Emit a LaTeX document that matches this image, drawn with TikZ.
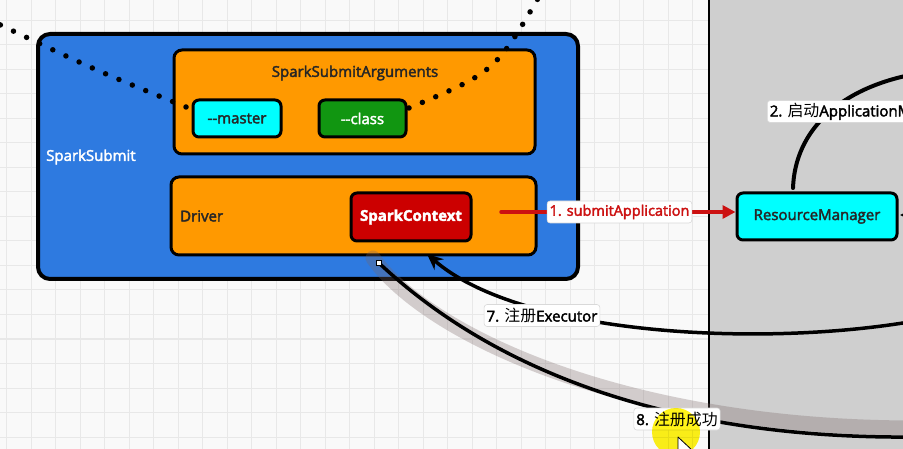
\documentclass[tikz,border=0pt]{standalone}
\usepackage{fontspec}
\setmainfont{Open Sans}[FakeBold=2.5]
\newfontfamily\cjk{Noto Sans CJK SC}[Scale=1.06]
\usetikzlibrary{arrows.meta}
\definecolor{ssblue}{RGB}{46,122,224}
\definecolor{orng}{RGB}{255,153,0}
\definecolor{cyn}{RGB}{0,255,255}
\definecolor{grn}{RGB}{17,150,17}
\definecolor{rd}{RGB}{204,0,0}
\definecolor{arrred}{RGB}{204,17,17}
\definecolor{bgc}{RGB}{249,249,249}
\definecolor{gridc}{RGB}{232,232,232}
\definecolor{yarn}{RGB}{207,207,207}
\definecolor{bandc}{RGB}{120,100,100}
\begin{document}
\begin{tikzpicture}[x=1pt,y=-1pt,
 box/.style={draw=black, line width=3pt, rounded corners=8pt, inner sep=0pt},
 txt/.style={font=\fontsize{15}{18}\selectfont, inner sep=0pt},
 lbl/.style={fill=white, draw=black!15, line width=0.6pt, rounded corners=3pt, inner sep=2.5pt, minimum height=22pt, font=\fontsize{15}{18}\selectfont},
 conn/.style={line width=3.5pt, line cap=round},
 dots/.style={line width=5.5pt, line cap=round, dash pattern=on 0pt off 14.5pt},
 gridl/.style={draw=gridc, line width=1pt},
]
\useasboundingbox (0,0) rectangle (903,449);
\clip (0,0) rectangle (903,449);
% background and grid
\fill[bgc] (0,0) rectangle (903,449);
\foreach \i in {0,...,28} {\draw[gridl] (6.7+24.5*\i,0) -- (6.7+24.5*\i,449);}
\foreach \j in {-1,...,17} {\draw[gridl] (0,20.5+24.5*\j) -- (709,20.5+24.5*\j);}
% cluster region
\fill[yarn] (709,-5) rectangle (910,455);
\draw[line width=2.5pt] (709,-5) -- (709,455);

% SparkSubmit
\node[box, line width=4pt, rounded corners=12pt, fill=ssblue, minimum width=540pt, minimum height=245pt] (ss) at (308,156.5) {};
\node[txt, text=white, anchor=west] (sslbl) at (46,157) {SparkSubmit};
\node[box, fill=orng, minimum width=361pt, minimum height=104pt] (ssa) at (354.5,102) {};
\node[txt, text=black!85] (ssalbl) at (355,73) {SparkSubmitArguments};
\node[box, rounded corners=6pt, fill=cyn, minimum width=88pt, minimum height=37pt, txt, text=black!85] (master) at (237,118.5) {-{}-master};
\node[box, rounded corners=6pt, fill=grn, minimum width=87pt, minimum height=37pt, txt, text=white] (cls) at (362.5,118.5) {-{}-class};
\node[box, fill=orng, minimum width=365pt, minimum height=78pt] (drv) at (353.5,216) {};
\node[txt, text=black!85, anchor=west] (drvlbl) at (180,216) {Driver};
\node[box, rounded corners=6pt, fill=rd, minimum width=120pt, minimum height=48pt, txt, text=white, font=\fontsize{15}{18}\selectfont\bfseries] (sc) at (411,217) {SparkContext};
\node[box, rounded corners=6pt, fill=cyn, minimum width=160pt, minimum height=47pt, txt, text=black!85] (rm) at (817,216.5) {ResourceManager};

% dotted lines
\coordinate (d1) at (186,107);
\coordinate (d1e) at (-10,20);
\coordinate (d2) at (409,108);
\coordinate (d2e) at (540,-5);
\draw[dots] (d1) .. controls (95,70) .. (d1e);
\draw[dots] (d2) .. controls (495,72) .. (d2e);

% 1. submitApplication
\coordinate (a1s) at (501,212);
\draw[conn, arrred, -{Triangle[length=13pt,width=13pt]}] (a1s) -- (a1s -| rm.west);
\node[lbl, text=arrred, font=\fontsize{14.5}{17}\selectfont] (l1) at (619.5,212) {1. submitApplication};

% 2. start ApplicationMaster
\coordinate (a2s) at (793,188);
\coordinate (a2e) at (915,74);
\draw[conn, line width=4pt] (a2s) .. controls (795,130) and (840,88) .. (a2e);
\node[lbl, anchor=west] (l2) at (767,111.5) {2. {\cjk 启动}ApplicationMaster};

% arrow into RM from the right
\coordinate (a3s) at (925,215);
\coordinate (a3e) at (900,215);
\draw[conn, -{Stealth[length=12pt,width=11pt]}] (a3s) -- (a3e);

% band (selection shadow) of connector 8
\draw[bandc, opacity=0.3, line width=15pt, line cap=round] (373,258) .. controls (425,332) and (620,428) .. (915,428);

% 7. register Executor
\coordinate (a7s) at (915,321);
\coordinate (a7e) at (427,254);
\draw[conn, -{Stealth[length=16pt,width=14pt]}] (a7s) .. controls (760,348) and (520,335) .. (a7e);
\node[lbl] (l7) at (542,315.5) {7. {\cjk 注册}Executor};

% 8. register success
\coordinate (a8e) at (915,437);
\node[draw=black, fill=white, line width=0.6pt, minimum size=5pt, inner sep=0pt] (h8) at (379,263) {};
\draw[conn] (h8.center) .. controls (445,325) and (600,440) .. (a8e);
\node[draw=black, fill=white, line width=0.6pt, minimum size=5pt, inner sep=0pt] at (379,263) {};
\node[lbl] (l8) at (677,419) {8. {\cjk 注册成功}};

% cursor highlight
\fill[yellow, blend mode=multiply, opacity=0.9] (676,432) circle (24pt);
\draw[fill=white, line width=0.8pt, line join=round] (678,437) -- (678,456) -- (683,451) -- (693,451) -- cycle;
\end{tikzpicture}
\end{document}
